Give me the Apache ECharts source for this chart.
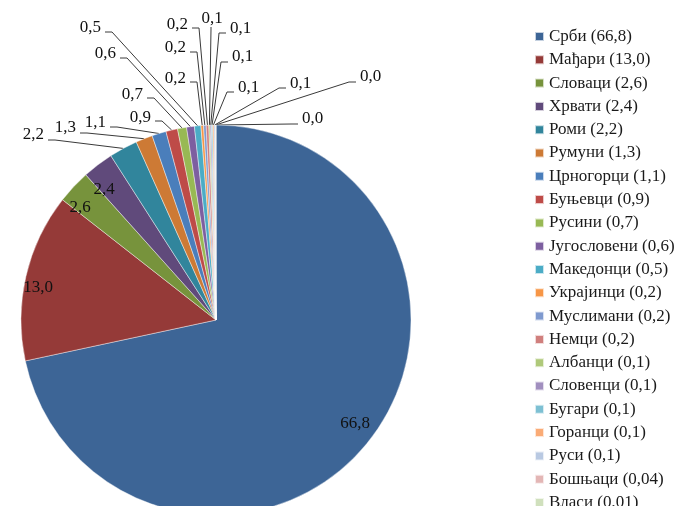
<!DOCTYPE html>
<html><head><meta charset="utf-8">
<script src="https://cdn.jsdelivr.net/npm/echarts@6/dist/echarts.min.js"></script>
<style>html,body{margin:0;padding:0;background:#fff}#c{width:676px;height:506px}</style>
</head><body><div id="c"></div>
<script>
const categories = ['Срби','Мађари','Словаци','Хрвати','Роми','Румуни','Црногорци','Буњевци','Русини','Југословени','Македонци','Украјинци','Муслимани','Немци','Албанци','Словенци','Бугари','Горанци','Руси','Бошњаци','Власи'];
const values = [66.8,13.0,2.6,2.4,2.2,1.3,1.1,0.9,0.7,0.6,0.5,0.2,0.2,0.2,0.1,0.1,0.1,0.1,0.1,0.04,0.01];
const colors = ['#3D6596','#953A38','#77933C','#604A7B','#31859C','#CD7A35','#4A7EBB','#BE4B48','#98B954','#7D5FA0','#4BACC6','#F79646','#7F9ACF','#D07F7D','#AFC97A','#A18FBF','#7DC0D3','#FAAB76','#B9C9E2','#E3B6B5','#D0E0BD'];

// label placement (layout only): [x, y, align, lineY]
const labelPos = [
  [355,424,'center'],[38,288,'center'],[80,208,'center'],[104,190,'center'],
  [44,135,'right',140],[76,128,'right',133],[106,123,'right',127],[151,118,'right',121],
  [143,95,'right',98],[116,54,'right',58],[101,28,'right',32],
  [186,79,'right',82],[186,48,'right',52],[188,25,'right',28],
  [212,19,'top',27],
  [230,29,'left',33],[232,57,'left',62],[238,88,'left',92],[290,84,'left',88],
  [360,77,'left',82],[302,119,'left',124]
];
const insideCount = 4;

function fmtLabel(v){ return v.toFixed(1).replace('.', ','); }
function fmtLegend(v){ return (v >= 0.1 ? v.toFixed(1) : v.toFixed(2)).replace('.', ','); }

const valueByName = {};
categories.forEach((c,i)=>{ valueByName[c] = values[i]; });

const CX = 216, CY = 320, R = 195;
const total = values.reduce((a,b)=>a+b,0);

const data = categories.map((name,i)=>({
  name: name,
  value: values[i],
  itemStyle: {color: colors[i]},
  label: {position: i < insideCount ? 'inside' : 'outside'},
  labelLine: {show: i >= insideCount}
}));

const chart = echarts.init(document.getElementById('c'), null, {renderer:'canvas'});
chart.setOption({
  animation: false,
  backgroundColor: '#fff',
  legend: {
    orient: 'vertical',
    left: 534,
    top: 28,
    height: 600,
    padding: 0,
    itemWidth: 9,
    itemHeight: 9,
    itemGap: 6.3,
    icon: 'rect',
    data: categories,
    formatter: n => n + ' (' + fmtLegend(valueByName[n]) + ')',
    textStyle: {fontFamily: 'Liberation Serif', fontSize: 17, color: '#1a1a1a', lineHeight: 17}
  },
  series: [{
    type: 'pie',
    center: [CX, CY],
    radius: R,
    startAngle: 90,
    clockwise: true,
    avoidLabelOverlap: false,
    itemStyle: {borderColor: 'rgba(255,255,255,0.7)', borderWidth: 0.6},
    label: {
      show: true,
      formatter: p => fmtLabel(p.value),
      fontFamily: 'Liberation Serif',
      fontSize: 17,
      color: '#111'
    },
    labelLine: {show: true, lineStyle: {color: '#3a3a3a', width: 1}, length: 10, length2: 10},
    emphasis: {disabled: true},
    labelLayout: function(p){
      const i = p.dataIndex;
      const L = labelPos[i];
      if (i < insideCount) {
        return {x: L[0], y: L[1], align: 'center', verticalAlign: 'middle'};
      }
      let edge;
      if (p.labelLinePoints && p.labelLinePoints[0]) {
        edge = [p.labelLinePoints[0][0], p.labelLinePoints[0][1]];
      } else {
        let cum = 0; for (let k=0;k<i;k++) cum += values[k];
        const a = (90 - (cum + values[i]/2)/total*360) * Math.PI/180;
        edge = [CX + R*Math.cos(a), CY - R*Math.sin(a)];
      }
      if (L[2] === 'top') {
        return {x: L[0], y: L[1], align: 'center', verticalAlign: 'middle',
          labelLinePoints: [edge, [L[0]-1, L[3]+2], [L[0]-1, L[3]]]};
      }
      const s = L[2] === 'right' ? 1 : -1;
      return {
        x: L[0], y: L[1], align: L[2], verticalAlign: 'middle',
        labelLinePoints: [edge, [L[0] + s*11, L[3]], [L[0] + s*4, L[3]]]
      };
    },
    data: data
  }]
});
</script>
</body></html>
